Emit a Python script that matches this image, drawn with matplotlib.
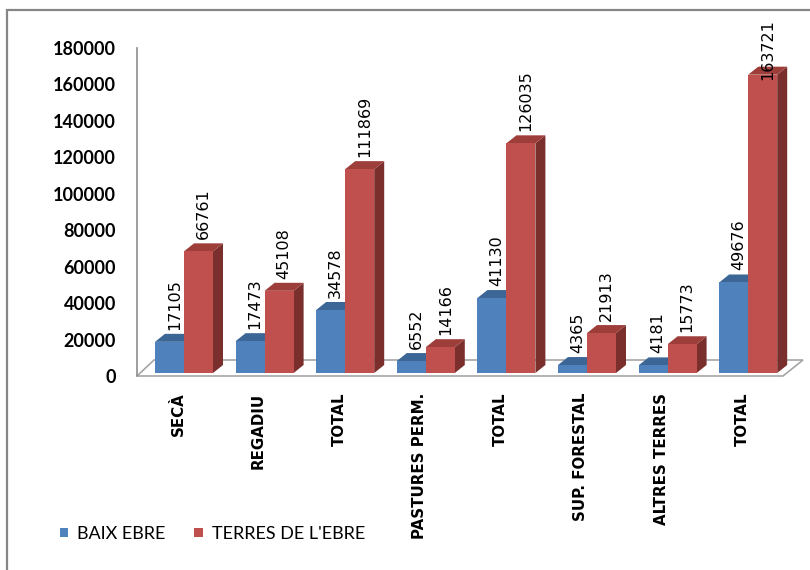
import matplotlib.pyplot as plt
from matplotlib.patches import Polygon, Rectangle, Patch

categories = ['SECÀ', 'REGADIU', 'TOTAL', 'PASTURES PERM.', 'TOTAL',
              'SUP. FORESTAL', 'ALTRES TERRES', 'TOTAL']
baix_ebre = [17105, 17473, 34578, 6552, 41130, 4365, 4181, 49676]
terres_ebre = [66761, 45108, 111869, 14166, 126035, 21913, 15773, 163721]
series_names = ['BAIX EBRE', "TERRES DE L'EBRE"]
yticks = list(range(0, 180001, 20000))

# colours: front, top, side
blue = ('#4F81BD', '#3C6696', '#385D8A')
red = ('#C0504D', '#9E3E3B', '#7B2F2D')

W, H = 810, 570
fig = plt.figure(figsize=(W / 100, H / 100), dpi=100)

# plot area in pixels
pl, pr, pb, pt = 137, 783, 376, 48
ax = fig.add_axes([pl / W, 1 - pb / H, (pr - pl) / W, (pb - pt) / H])
x0, x1 = -0.583, 7.432
ymax = 180000
ax.set_xlim(x0, x1)
ax.set_ylim(0, ymax)

ppx = (pr - pl) / (x1 - x0)
ppy = (pb - pt) / ymax
ddx, ddy = 10 / ppx, 8 / ppy      # bar depth
fdx, fdy = 17 / ppx, 16 / ppy     # floor depth
base = 3 / ppy
bw = 0.36

# floor
floor = Polygon([(x0, 0), (x1, 0), (x1 + 20 / ppx, fdy), (x0 + fdx, fdy)],
                closed=True, facecolor='white', edgecolor='#A6A6A6',
                lw=1.2, clip_on=False, zorder=1)
ax.add_patch(floor)


def bar3d(x, h, cols):
    top = h + base
    ax.add_patch(Polygon([(x + bw, base), (x + bw + ddx, base + ddy),
                          (x + bw + ddx, top + ddy), (x + bw, top)],
                         facecolor=cols[2], edgecolor='none', zorder=2, clip_on=False))
    ax.add_patch(Polygon([(x, top), (x + bw, top), (x + bw + ddx, top + ddy),
                          (x + ddx, top + ddy)],
                         facecolor=cols[1], edgecolor='none', zorder=2, clip_on=False))
    ax.add_patch(Rectangle((x, base), bw, h, facecolor=cols[0],
                           edgecolor='none', zorder=2, clip_on=False))


lab_cap = 162500
for i in range(len(categories)):
    for j, (vals, cols) in enumerate([(baix_ebre, blue), (terres_ebre, red)]):
        x = i - bw + j * bw
        v = vals[i]
        bar3d(x, v, cols)
        ly = min(v + base + ddy + 4 / ppy, lab_cap)
        ax.text(x + bw / 2 + ddx / 2, ly, str(v), rotation=90,
                ha='center', va='bottom', fontsize=11.5, color='black',
                family='DejaVu Sans', zorder=5)

for s in ['top', 'right', 'bottom']:
    ax.spines[s].set_visible(False)
ax.spines['left'].set_color('#8C8C8C')
ax.spines['left'].set_linewidth(1.2)

ax.set_yticks(yticks)
ax.set_yticklabels([str(t) for t in yticks], family='Lato', fontweight='bold', fontsize=13)
ax.tick_params(axis='y', length=0, pad=15)

ax.set_xticks([i - 0.075 for i in range(len(categories))])
ax.set_xticklabels(categories, rotation=90, fontweight='bold', fontsize=10.8,
                   family='DejaVu Sans', va='top', ha='center')
ax.tick_params(axis='x', length=0, pad=12)

handles = [Patch(facecolor=blue[0]), Patch(facecolor=red[0])]
fig.legend(handles, series_names, loc='center left', bbox_to_anchor=(60 / W, 1 - 534 / H),
           ncol=2, frameon=False, borderpad=0, borderaxespad=0,
           handlelength=0.45, handleheight=0.45, handletextpad=0.5,
           columnspacing=1.6, prop={'family': 'Lato', 'size': 13})

# chart border
fig.patches.append(Rectangle((7 / W, -0.05), 1.0, 1 - 10 / H + 0.05,
                             transform=fig.transFigure, fill=False,
                             edgecolor='#868686', lw=1.6))

fig.savefig('out.png', dpi=100)
